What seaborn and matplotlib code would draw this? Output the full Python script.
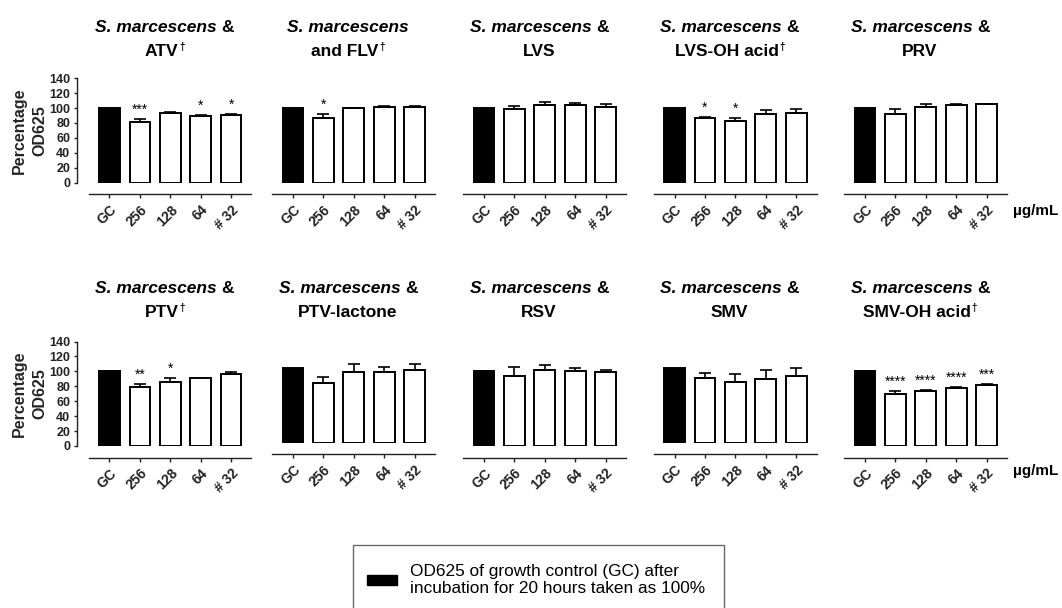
import numpy as np
import pandas as pd
import matplotlib
matplotlib.use("Agg")
import matplotlib.pyplot as plt
import seaborn as sns
from matplotlib.patches import Patch
from matplotlib.legend_handler import HandlerPatch
from matplotlib.transforms import IdentityTransform

# ---- data: percentage OD625 relative to growth control (mean, upper SEM, significance) ----
doses = ["GC", "256", "128", "64", "# 32"]

atv = [100, 81.0, 93.5, 90.0, 91.0]
atv_err = [0, 4.0, 0.8, 0.8, 1.3]
atv_sig = ["", "***", "", "*", "*"]

flv = [100, 87.0, 99.7, 102.0, 102.0]
flv_err = [0, 5.4, 0.8, 0.5, 1.3]
flv_sig = ["", "*", "", "", ""]

lvs = [100, 98.8, 104.2, 104.2, 102.0]
lvs_err = [0, 3.6, 3.6, 3.0, 3.0]
lvs_sig = ["", "", "", "", ""]

lvs_oh = [100, 86.3, 83.2, 92.6, 93.9]
lvs_oh_err = [0, 1.3, 3.0, 4.4, 5.4]
lvs_oh_sig = ["", "*", "*", "", ""]

prv = [100, 91.7, 102.0, 103.8, 105.1]
prv_err = [0, 6.7, 3.5, 1.3, 0.4]
prv_sig = ["", "", "", "", ""]

ptv = [100, 79.6, 85.8, 90.7, 96.4]
ptv_err = [0, 3.0, 5.0, 0, 3.0]
ptv_sig = ["", "**", "*", "", ""]

ptv_lac = [100, 80.0, 94.2, 94.2, 97.8]
ptv_lac_err = [0, 8.0, 11.6, 7.0, 7.5]
ptv_lac_sig = ["", "", "", "", ""]

rsv = [100, 94.2, 102.2, 100.9, 98.7]
rsv_err = [0, 11.0, 6.2, 4.0, 3.5]
rsv_sig = ["", "", "", "", ""]

smv = [100, 86.2, 81.8, 84.9, 88.9]
smv_err = [0, 7.0, 11.0, 12.0, 10.7]
smv_sig = ["", "", "", "", ""]

smv_oh = [100, 70.2, 73.3, 77.8, 82.2]
smv_oh_err = [0, 3.0, 1.8, 1.3, 1.4]
smv_oh_sig = ["", "****", "****", "****", "***"]

organism = "S. marcescens"
drugs = ["ATV", "and FLV", "LVS", "LVS-OH acid", "PRV",
         "PTV", "PTV-lactone", "RSV", "SMV", "SMV-OH acid"]
joiners = ["&", "", "&", "&", "&", "&", "&", "&", "&", "&"]
daggers = [True, True, False, True, False, True, False, False, False, True]

unit_label = "\u00b5g/mL"
legend_text = "OD625 of growth control (GC) after\nincubation for 20 hours taken as 100%"
y_label = "Percentage\nOD625"

panels = [
    (atv, atv_err, atv_sig), (flv, flv_err, flv_sig), (lvs, lvs_err, lvs_sig),
    (lvs_oh, lvs_oh_err, lvs_oh_sig), (prv, prv_err, prv_sig),
    (ptv, ptv_err, ptv_sig), (ptv_lac, ptv_lac_err, ptv_lac_sig),
    (rsv, rsv_err, rsv_sig), (smv, smv_err, smv_sig), (smv_oh, smv_oh_err, smv_oh_sig),
]

# ---- style ----
sns.set_style("ticks")
plt.rcParams["font.family"] = ["Liberation Sans", "DejaVu Sans"]
plt.rcParams["axes.edgecolor"] = "#222222"
plt.rcParams["xtick.color"] = "#222222"
plt.rcParams["ytick.color"] = "#222222"
plt.rcParams["text.color"] = "black"

W, H = 1062, 608
fig = plt.figure(figsize=(W / 100, H / 100), dpi=100)

col_left = [88.5, 272.0, 463.0, 653.6, 844.0]
ax_w, ax_h = 163.0, 104.5
row_zero = [182.7, 446.0]
row_shift = [[0, 0, 0, 0, 0], [0, 3.2, 0, 3.2, 0]]
title_base = [(32.3, 56.0), (293.3, 317.3)]
unit_base = [214.5, 474.5]

title_size = 12.5
PT = 100 / 72.0  # pixels per point


def rich_line(cx, y_img, runs):
    """Draw a centred line built from differently styled runs (pixel coords, y from top)."""
    r = fig.canvas.get_renderer()
    arts, widths, gaps = [], [], []
    for text, kw, dy, gap in runs:
        t = fig.text(0, 0, text, ha="left", va="baseline",
                     transform=IdentityTransform(), **kw)
        arts.append((t, dy))
        widths.append(t.get_window_extent(r).width)
        gaps.append(gap)
    total = sum(widths) + sum(gaps)
    x = cx - total / 2
    for (t, dy), w, g in zip(arts, widths, gaps):
        x += g
        t.set_position((x, H - y_img + dy))
        x += w


space_px = 0.278 * title_size * PT
bold_it = dict(fontsize=title_size, fontweight="bold", fontstyle="italic")
bold = dict(fontsize=title_size, fontweight="bold")
dag = dict(fontsize=7, fontweight="bold")

for k, (vals, errs, sigs) in enumerate(panels):
    r, c = divmod(k, 5)
    zero = row_zero[r] - row_shift[r][c]
    ax = fig.add_axes([col_left[c] / W, (H - zero) / H, ax_w / W, ax_h / H])

    df = pd.DataFrame({"dose": doses, "pct": vals})
    colors = ["black"] + ["white"] * (len(doses) - 1)
    sns.barplot(data=df, x="dose", y="pct", hue="dose", palette=colors,
                legend=False, width=0.68, edgecolor="black", linewidth=1.4,
                errorbar=None, saturation=1, ax=ax)

    xs = np.arange(len(doses))
    v = np.array(vals, dtype=float)
    e = np.array(errs, dtype=float)
    m = e > 0
    ax.errorbar(xs[m], v[m], yerr=[np.zeros(m.sum()), e[m]], fmt="none",
                ecolor="black", elinewidth=1.2, capsize=4.2, capthick=1.2, zorder=3)
    for i, s in enumerate(sigs):
        if s:
            ax.annotate(s, xy=(i, v[i] + e[i]), xytext=(0, 3.8),
                        textcoords="offset points", ha="center", va="baseline",
                        fontsize=10)

    ax.set_xlim(-0.69, 4.67)
    ax.set_ylim(0, 140)
    ax.set_xlabel("")
    ax.set_ylabel("")
    for sp in ("top", "right"):
        ax.spines[sp].set_visible(False)
    ax.spines["bottom"].set_position(("outward", 8.4))
    ax.spines["bottom"].set_linewidth(1.0)
    ax.set_xticks(xs)
    ax.set_xticklabels(doses, rotation=45, ha="right", rotation_mode="anchor",
                       fontsize=10, fontweight="bold")
    ax.tick_params(axis="x", length=3, width=1.0, pad=3)

    if c == 0:
        ax.spines["left"].set_position(("outward", 8.1))
        ax.spines["left"].set_linewidth(1.0)
        ax.set_yticks(range(0, 141, 20))
        ax.set_yticklabels([str(t) for t in range(0, 141, 20)],
                           fontsize=9, fontweight="bold")
        ax.tick_params(axis="y", length=2.5, width=1.0, pad=2.5)
        ax.set_ylabel(y_label, fontsize=11.5, fontweight="bold", linespacing=1.45)
        ax.yaxis.set_label_coords(-0.255, 0.5)
    else:
        ax.spines["left"].set_visible(False)
        ax.set_yticks([])

    # two-line title
    cx = col_left[c] + ax_w / 2 - 5.5
    b1, b2 = title_base[r]
    line1 = [(organism, bold_it, 0, 0)]
    if joiners[k]:
        line1.append((joiners[k], bold, 0, space_px))
    rich_line(cx, b1, line1)
    line2 = [(drugs[k], bold, 0, 0)]
    if daggers[k]:
        line2.append(("\u2020", dag, 6, 0.5))
    rich_line(cx, b2, line2)

# concentration unit at the end of each row
for r in range(2):
    fig.text(1013 / W, (H - unit_base[r]) / H, unit_label, fontsize=11,
             fontweight="bold", ha="left", va="baseline")

# legend for the filled growth-control bar
handle = Patch(facecolor="black", edgecolor="black")
leg = fig.legend([handle], [legend_text], loc="upper left",
                 bbox_to_anchor=(353 / W, 1 - 545 / H), fontsize=12.4,
                 frameon=True, fancybox=False, borderpad=1.1,
                 handlelength=1.45, handleheight=0.58, handletextpad=0.75,
                 labelspacing=0.2, borderaxespad=0,
                 handler_map={Patch: HandlerPatch(xpad=-0.29)})
leg.get_frame().set_edgecolor("#444444")
leg.get_frame().set_linewidth(1.0)
for t in leg.get_texts():
    t.set_linespacing(1.2)

fig.savefig("out.png", dpi=100)
